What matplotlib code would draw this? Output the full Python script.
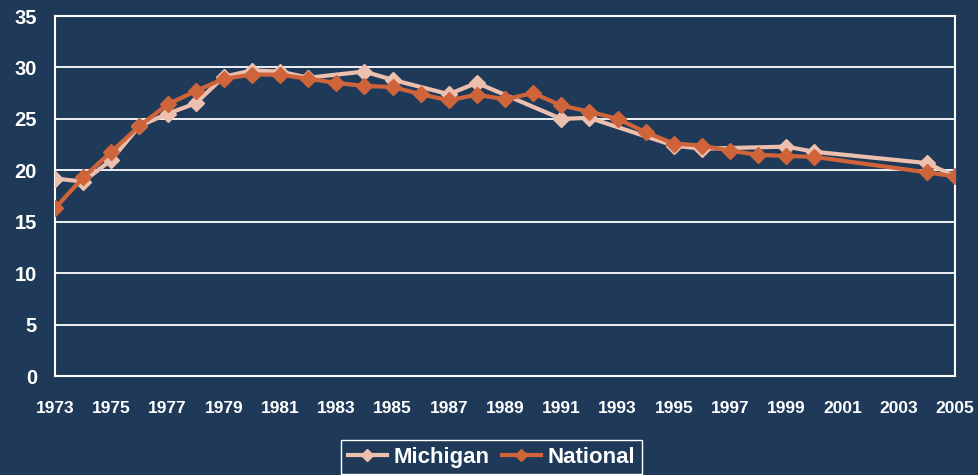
import numpy as np
import matplotlib
matplotlib.use("Agg")
import matplotlib.pyplot as plt

# Annual rates, 1973-2005 (NaN where no figure was reported)
years = list(range(1973, 2006))
michigan = [19.2, 18.9, 21.0, 24.3, 25.5, 26.5, 29.1, 29.7, 29.6, 29.0,
            np.nan, 29.6, 28.8, np.nan, 27.4, 28.5, np.nan, np.nan, 25.0, 25.1,
            np.nan, np.nan, 22.4, 22.1, np.nan, np.nan, 22.3, 21.8,
            np.nan, np.nan, np.nan, 20.7, 19.4]
national = [16.3, 19.3, 21.8, 24.3, 26.4, 27.7, 28.9, 29.3, 29.3, 28.9,
            28.5, 28.2, 28.1, 27.4, 26.8, 27.35, 26.9, 27.5, 26.3, 25.7,
            25.0, 23.7, 22.6, 22.4, 21.9, 21.5, 21.4, 21.3,
            np.nan, np.nan, np.nan, 19.8, 19.4]
series_names = ["Michigan", "National"]
x_ticks = list(range(1973, 2006, 2))
y_ticks = list(range(0, 36, 5))

BG = "#1f3a58"
COL_MI = "#ecbfae"
COL_NAT = "#cf643b"

plt.rcParams["font.family"] = ["Liberation Sans", "DejaVu Sans"]
plt.rcParams["font.weight"] = "bold"

fig = plt.figure(figsize=(9.79, 4.75), dpi=100, facecolor=BG)
ax = fig.add_axes([55 / 979, 1 - 376 / 475, 900 / 979, 360 / 475])
ax.set_facecolor(BG)


def valid(xs, ys):
    xs = np.asarray(xs, dtype=float)
    ys = np.asarray(ys, dtype=float)
    m = ~np.isnan(ys)
    return xs[m], ys[m]


xm, ym = valid(years, michigan)
xn, yn = valid(years, national)
ax.plot(xm, ym, color=COL_MI, lw=3.0, marker="D", ms=8, mec=COL_MI,
        label=series_names[0], zorder=3)
ax.plot(xn, yn, color=COL_NAT, lw=3.0, marker="D", ms=8, mec=COL_NAT,
        label=series_names[1], zorder=4)

ax.set_xlim(1973, 2005)
ax.set_ylim(0, 35)
ax.set_xticks(x_ticks)
ax.set_xticklabels([str(v) for v in x_ticks])
ax.set_yticks(y_ticks)
ax.set_yticklabels([str(v) for v in y_ticks])
ax.tick_params(axis="x", length=0, pad=18, labelsize=12.5, colors="white")
ax.tick_params(axis="y", length=0, pad=13, labelsize=14.5, colors="white")
for lab in ax.get_xticklabels() + ax.get_yticklabels():
    lab.set_fontweight("bold")

ax.grid(axis="y", color="white", lw=1.3, zorder=1)
ax.set_axisbelow(True)
for sp in ax.spines.values():
    sp.set_color("white")
    sp.set_linewidth(1.5)

leg = fig.legend(loc="upper center", bbox_to_anchor=(491.5 / 979, 1 - 440 / 475),
                 ncol=2, frameon=True, fancybox=False, fontsize=16,
                 handlelength=1.75, handletextpad=0.3, columnspacing=0.55,
                 borderpad=0.3, borderaxespad=0.0, markerscale=0.75)
frame = leg.get_frame()
frame.set_facecolor(BG)
frame.set_edgecolor("white")
frame.set_linewidth(1.0)
frame.set_alpha(1)
for t in leg.get_texts():
    t.set_color("white")
    t.set_fontweight("bold")

fig.savefig("out.png", dpi=100, facecolor=BG)
